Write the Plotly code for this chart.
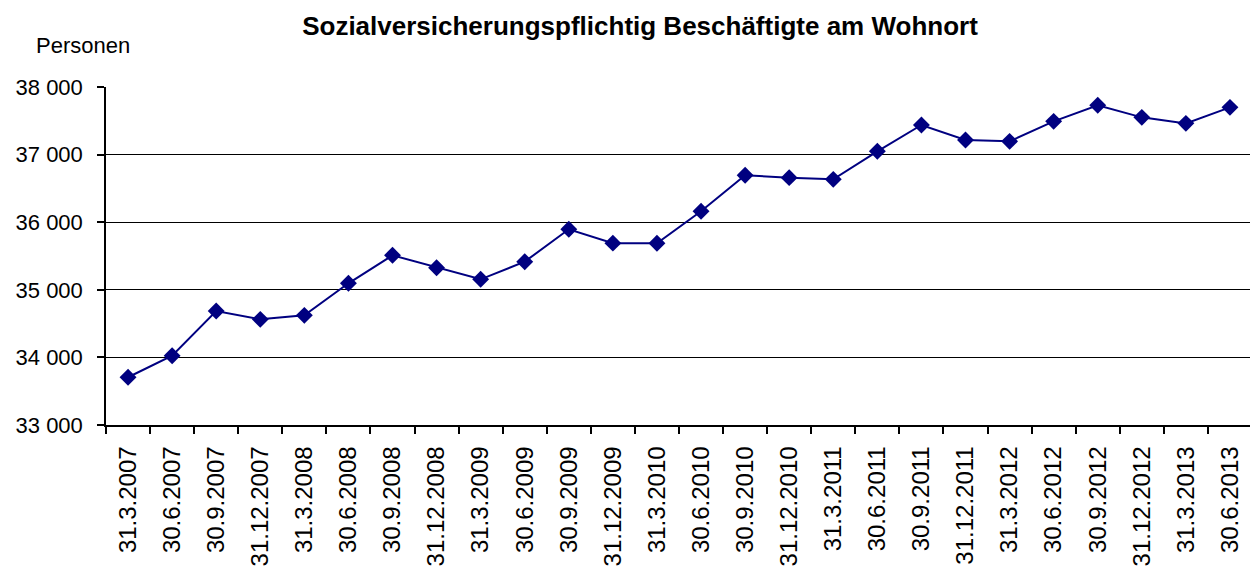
import plotly.graph_objects as go

dates = ["31.3.2007", "30.6.2007", "30.9.2007", "31.12.2007", "31.3.2008", "30.6.2008",
         "30.9.2008", "31.12.2008", "31.3.2009", "30.6.2009", "30.9.2009", "31.12.2009",
         "31.3.2010", "30.6.2010", "30.9.2010", "31.12.2010", "31.3.2011", "30.6.2011",
         "30.9.2011", "31.12.2011", "31.3.2012", "30.6.2012", "30.9.2012", "31.12.2012",
         "31.3.2013", "30.6.2013"]
values = [33706, 34025, 34686, 34563, 34622, 35096, 35510, 35327, 35155, 35416,
          35895, 35690, 35688, 36161, 36694, 36659, 36634, 37049, 37438, 37216,
          37196, 37492, 37729, 37551, 37462, 37699]
ytick_vals = [33000, 34000, 35000, 36000, 37000, 38000]
ytick_text = ["33 000", "34 000", "35 000", "36 000", "37 000", "38 000"]

FONT = "Liberation Sans, Arial, sans-serif"

fig = go.Figure(go.Scatter(
    x=dates, y=values, mode="lines+markers",
    line=dict(color="#000080", width=2),
    marker=dict(symbol="diamond", size=13, color="#000080"),
))

fig.update_layout(
    width=1250, height=561,
    margin=dict(l=98, r=6, t=79, b=144, autoexpand=False),
    paper_bgcolor="white", plot_bgcolor="white",
    showlegend=False,
    font=dict(family=FONT, size=22, color="black"),
    title=dict(text="<b>Sozialversicherungspflichtig Beschäftigte am Wohnort</b>",
               x=0.5056, xanchor="center", y=0.968, yanchor="middle",
               font=dict(family=FONT, size=26, color="black")),
    annotations=[dict(text="Personen", xref="paper", yref="paper",
                      x=-0.063, y=1.124, xanchor="left", yanchor="middle",
                      showarrow=False, font=dict(family=FONT, size=22))],
)

fig.update_xaxes(
    type="category", tickangle=-90, showgrid=False,
    showline=True, linecolor="black", linewidth=1.5,
    ticks="outside", ticklen=7, tickcolor="black", tickwidth=1.5,
    tickson="boundaries", automargin=False, ticklabelstandoff=10,
    range=[-0.5, len(dates) - 0.5],
    tickfont=dict(family=FONT, size=24),
)
fig.update_yaxes(
    range=[33000, 38000], tickvals=ytick_vals, ticktext=ytick_text,
    showgrid=True, gridcolor="black", gridwidth=1,
    showline=True, linecolor="black", linewidth=1.5,
    ticks="outside", ticklen=7, tickcolor="black", tickwidth=1.5,
    zeroline=False, automargin=False, ticklabelstandoff=10,
    tickfont=dict(family=FONT, size=22),
)

fig.write_html("out.html")
